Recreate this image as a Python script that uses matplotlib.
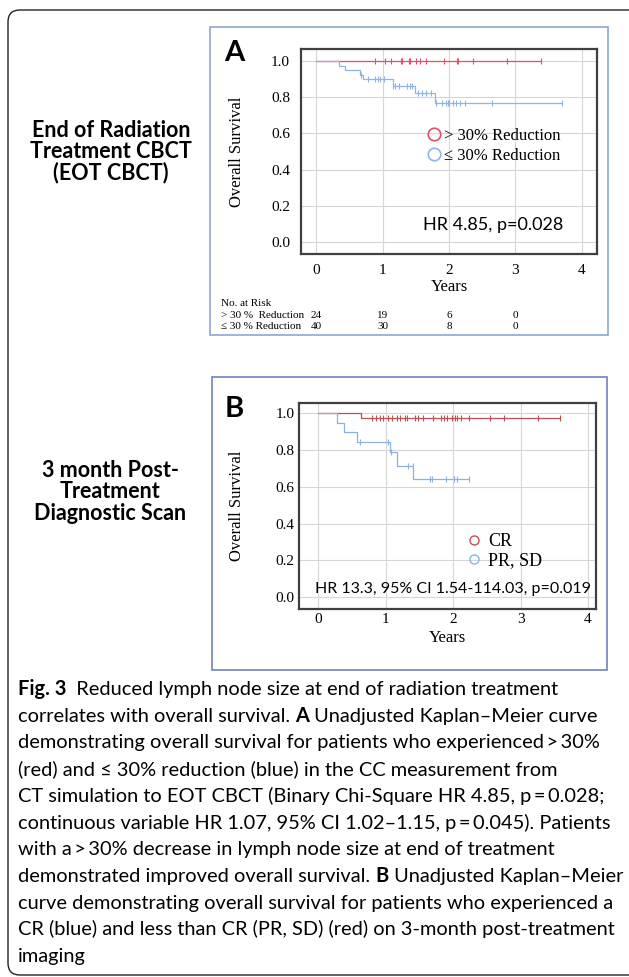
import numpy as np
import matplotlib
matplotlib.use('Agg')
import matplotlib.pyplot as plt
from matplotlib.lines import Line2D
from matplotlib.patches import FancyBboxPatch, Rectangle
from matplotlib.transforms import blended_transform_factory

# ---- data ----
# panel A: > 30% reduction (red) and <= 30% reduction (blue)
a_red_t = [0.0, 3.38]
a_red_s = [1.0, 1.0]
a_red_cens = [0.88, 1.04, 1.12, 1.27, 1.29, 1.40, 1.41, 1.51, 1.56, 1.65,
              1.92, 2.12, 2.14, 2.36, 2.87, 3.38]
a_blue_t = [0.0, 0.34, 0.44, 0.66, 0.70, 1.15, 1.49, 1.79, 3.71]
a_blue_s = [1.0, 0.975, 0.95, 0.925, 0.90, 0.865, 0.826, 0.766, 0.766]
a_blue_cens = [0.68, 0.78, 0.89, 0.93, 0.96, 1.02, 1.16, 1.18, 1.24, 1.36,
               1.41, 1.44, 1.53, 1.60, 1.66, 1.73, 1.80, 1.89, 1.95, 1.98,
               2.00, 2.06, 2.11, 2.16, 2.24, 2.65, 3.71]
risk_times = [0, 1, 2, 3]
risk_red = [24, 19, 6, 0]
risk_blue = [40, 30, 8, 0]

# panel B: CR (red) and PR, SD (blue)
b_red_t = [0.0, 0.64, 3.58]
b_red_s = [1.0, 0.975, 0.975]
b_red_cens = [0.79, 0.86, 0.92, 0.96, 1.04, 1.10, 1.17, 1.21, 1.28, 1.32,
              1.43, 1.48, 1.55, 1.70, 1.82, 1.87, 1.91, 1.98, 2.03, 2.06,
              2.12, 2.24, 2.54, 2.76, 3.26, 3.58]
b_blue_t = [0.0, 0.27, 0.38, 0.57, 1.07, 1.16, 1.41, 2.23]
b_blue_s = [1.0, 0.947, 0.897, 0.846, 0.788, 0.715, 0.641, 0.641]
b_blue_cens = [0.62, 1.04, 1.08, 1.33, 1.40, 1.66, 1.69, 1.89, 2.01, 2.06, 2.23]

xticks = [0, 1, 2, 3, 4]
yticks = [0.0, 0.2, 0.4, 0.6, 0.8, 1.0]

caption = [
    [('Fig. 3', True), ('  Reduced lymph node size at end of radiation treatment', False)],
    [('correlates with overall survival. ', False), ('A', True), (' Unadjusted Kaplan\u2013Meier curve', False)],
    [('demonstrating overall survival for patients who experienced\u2009>\u200930%', False)],
    [('(red) and \u2264 30% reduction (blue) in the CC measurement from', False)],
    [('CT simulation to EOT CBCT (Binary Chi-Square HR 4.85, p\u2009=\u20090.028;', False)],
    [('continuous variable HR 1.07, 95% CI 1.02\u20131.15, p\u2009=\u20090.045). Patients', False)],
    [('with a\u2009>\u200930% decrease in lymph node size at end of treatment', False)],
    [('demonstrated improved overall survival. ', False), ('B', True), (' Unadjusted Kaplan\u2013Meier', False)],
    [('curve demonstrating overall survival for patients who experienced a', False)],
    [('CR (blue) and less than CR (PR, SD) (red) on 3-month post-treatment', False)],
    [('imaging', False)],
]

SERIF = 'Liberation Serif'
SANS = ['Lato', 'DejaVu Sans']
red_a = '#e4506c'
blue_a = '#8db6e6'
red_b = '#c0504d'
blue_b = '#8ab3e4'

fig = plt.figure(figsize=(6.29, 9.77), dpi=100)
H = 977

# outer rounded frame (runs off the right edge)
frame = FancyBboxPatch((0.08, 0.02), 7.0, 9.65, boxstyle='round,pad=0,rounding_size=0.12',
                       transform=fig.dpi_scale_trans, fc='none', ec='#222222', lw=1.0)
fig.add_artist(frame)
# panel boxes
fig.add_artist(Rectangle((2.10, (H - 335) / 100), 3.98, 3.08, transform=fig.dpi_scale_trans,
                         fc='none', ec='#8ea6d8', lw=1.2))
fig.add_artist(Rectangle((2.12, (H - 670) / 100), 3.95, 2.93, transform=fig.dpi_scale_trans,
                         fc='none', ec='#7282c4', lw=1.2))


def km(ax, t, s, cens, color, lw=0.9):
    t = np.array(t)
    s = np.array(s)
    ax.plot(t, s, drawstyle='steps-post', color=color, lw=lw)
    idx = np.searchsorted(t, cens, side='right') - 1
    ax.plot(cens, s[idx], ls='', marker='|', ms=4, mew=0.8, color=color)


def style(ax, xlim, ylim, ypad, xpad):
    ax.set_xlim(*xlim)
    ax.set_ylim(*ylim)
    ax.set_xticks(xticks)
    ax.set_yticks(yticks)
    ax.set_xticklabels([str(x) for x in xticks], family=SERIF, fontsize=11)
    ax.set_yticklabels(['%.1f' % y for y in yticks], family=SERIF, fontsize=11)
    ax.tick_params(length=0)
    ax.tick_params(axis='y', pad=ypad)
    ax.tick_params(axis='x', pad=xpad)
    ax.grid(color='#d6d6d6', lw=0.8)
    ax.set_axisbelow(True)
    for sp in ax.spines.values():
        sp.set_color('#404040')
        sp.set_linewidth(1.6)


# ---- panel A ----
axA = fig.add_axes([301 / 629, 1 - 254 / H, 296 / 629, 205 / H])
style(axA, (-0.23, 4.23), (-0.068, 1.068), 8, 7.5)
km(axA, a_red_t, a_red_s, a_red_cens, red_a)
km(axA, a_blue_t, a_blue_s, a_blue_cens, blue_a)
axA.set_xlabel('Years', family=SERIF, fontsize=12, labelpad=1)
axA.set_ylabel('Overall Survival', family=SERIF, fontsize=12, labelpad=19)
hA = [Line2D([], [], ls='', marker='o', ms=9, mfc='none', mec=c, mew=1.2) for c in (red_a, blue_a)]
axA.legend(hA, ['> 30% Reduction', '\u2264 30% Reduction'], loc='center left',
           bbox_to_anchor=(0.372, 0.527), frameon=False, handletextpad=0.1,
           handlelength=1.0, labelspacing=0.25, prop={'family': SERIF, 'size': 12})
axA.text(0.885, 0.141, 'HR 4.85, p=0.028', transform=axA.transAxes, ha='right',
         va='center', family=SANS, fontsize=13)

tr = blended_transform_factory(axA.transData, fig.transFigure)
fig.text(221 / 629, 1 - 304 / H, 'No. at Risk', family=SERIF, fontsize=8, va='center')
fig.text(221 / 629, 1 - 316 / H, '> 30 %  Reduction', family=SERIF, fontsize=8, va='center')
fig.text(221 / 629, 1 - 327 / H, '\u2264 30 % Reduction', family=SERIF, fontsize=8, va='center')
for x, r, b in zip(risk_times, risk_red, risk_blue):
    axA.text(x, 1 - 316 / H, str(r), transform=tr, family=SERIF, fontsize=8, ha='center', va='center')
    axA.text(x, 1 - 327 / H, str(b), transform=tr, family=SERIF, fontsize=8, ha='center', va='center')

# ---- panel B ----
axB = fig.add_axes([299 / 629, 1 - 609 / H, 297 / 629, 206 / H])
style(axB, (-0.287, 4.12), (-0.065, 1.056), 3, 3)
km(axB, b_red_t, b_red_s, b_red_cens, red_b)
km(axB, b_blue_t, b_blue_s, b_blue_cens, blue_b)
axB.set_xlabel('Years', family=SERIF, fontsize=12, labelpad=3)
axB.set_ylabel('Overall Survival', family=SERIF, fontsize=12, labelpad=22)
hB = [Line2D([], [], ls='', marker='o', ms=6.5, mfc='none', mec=c, mew=1.0) for c in (red_b, blue_b)]
axB.legend(hB, ['CR', 'PR, SD'], loc='center left', bbox_to_anchor=(0.503, 0.28),
           frameon=False, handletextpad=0.3, handlelength=1.0, labelspacing=0.1,
           prop={'family': SERIF, 'size': 13})
axB.text(0.983, 0.097, 'HR 13.3, 95% CI 1.54-114.03, p=0.019', transform=axB.transAxes,
         ha='right', va='center', family=SANS, fontsize=11.5)

# panel letters and row titles
fig.text(224 / 629, 1 - 53 / H, 'A', family=SANS, fontweight='bold', fontsize=21, va='center')
fig.text(225 / 629, 1 - 409 / H, 'B', family=SANS, fontweight='bold', fontsize=21, va='center')
fig.text(111 / 629, 1 - 152 / H, 'End of Radiation\nTreatment CBCT\n(EOT CBCT)', family=SANS,
         fontweight='bold', fontsize=15.5, ha='center', va='center', linespacing=1.0)
fig.text(110 / 629, 1 - 492 / H, '3 month Post-\nTreatment\nDiagnostic Scan', family=SANS,
         fontweight='bold', fontsize=15.5, ha='center', va='center', linespacing=1.0)

# caption, one line at a time so bold pieces sit inline
renderer = fig.canvas.get_renderer()
for i, line in enumerate(caption):
    x = 18 / 629
    y = 1 - (695 + i * 26.7) / H
    for txt, bold in line:
        t = fig.text(x, y, txt, family=SANS, fontsize=14.4, fontweight='bold' if bold else 'normal',
                     va='baseline', ha='left')
        bb = t.get_window_extent(renderer)
        x = fig.transFigure.inverted().transform((bb.x1, bb.y0))[0]

fig.savefig('out.png', dpi=100)
